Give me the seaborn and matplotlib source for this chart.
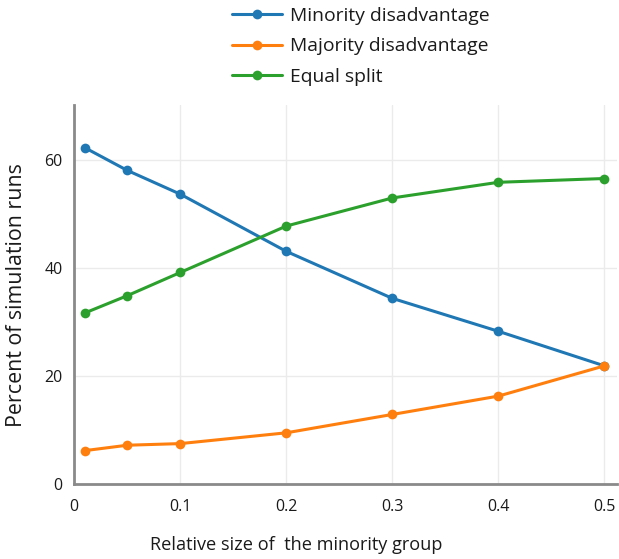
import matplotlib
matplotlib.use("Agg")
import matplotlib.pyplot as plt
import seaborn as sns
import pandas as pd

minority_size = [0.01, 0.05, 0.1, 0.2, 0.3, 0.4, 0.5]
minority_disadvantage = [62.3, 58.1, 53.7, 43.1, 34.4, 28.3, 21.9]
majority_disadvantage = [6.2, 7.2, 7.5, 9.5, 12.9, 16.3, 21.9]
equal_split = [31.7, 34.9, 39.2, 47.8, 53.0, 55.9, 56.6]
series_names = ["Minority disadvantage", "Majority disadvantage", "Equal split"]
x_ticks = [0, 0.1, 0.2, 0.3, 0.4, 0.5]
x_tick_labels = ["0", "0.1", "0.2", "0.3", "0.4", "0.5"]
y_ticks = [0, 20, 40, 60]

rows = []
for name, vals in zip(series_names, [minority_disadvantage, majority_disadvantage, equal_split]):
    for x, v in zip(minority_size, vals):
        rows.append({"x": x, "y": v, "series": name})
df = pd.DataFrame(rows)

sns.set_style("white")
plt.rcParams["font.family"] = ["Open Sans", "DejaVu Sans"]

fig = plt.figure(figsize=(6.19, 5.59), dpi=100)
ax = fig.add_axes([0.12, 0.134, 0.877, 0.678])

palette = ["#1f77b4", "#ff7f0e", "#2ca02c"]
sns.lineplot(data=df, x="x", y="y", hue="series", hue_order=series_names,
             palette=palette, marker="o", markersize=7, markeredgewidth=0,
             linewidth=2.2, ax=ax)

ax.set_xlim(0, 0.512)
ax.set_ylim(0, 70.2)
ax.set_xticks(x_ticks)
ax.set_xticklabels(x_tick_labels)
ax.set_yticks(y_ticks)
ax.grid(True, color="#ebebeb", linewidth=1.0)
ax.set_axisbelow(True)
for s in ["top", "right"]:
    ax.spines[s].set_visible(False)
for s in ["left", "bottom"]:
    ax.spines[s].set_color("#8a8a8a")
    ax.spines[s].set_linewidth(2)
ax.tick_params(axis="both", length=0, labelsize=11.5, colors="#1a1a1a")
ax.tick_params(axis="x", pad=11)
ax.tick_params(axis="y", pad=8.5)
ax.set_xlabel("Relative size of  the minority group", fontsize=13.1, color="#1a1a1a")
ax.set_ylabel("Percent of simulation runs", fontsize=15.4, color="#1a1a1a")
ax.xaxis.set_label_coords(0.409, -0.161)
ax.xaxis.label.set_va("center")
ax.yaxis.set_label_coords(-0.107, 0.5)
ax.yaxis.label.set_va("center")

leg = ax.legend(loc="upper left", bbox_to_anchor=(232 / 619, 1 - 7 / 559),
                bbox_transform=fig.transFigure, frameon=False, borderpad=0,
                borderaxespad=0, fontsize=13.9, handlelength=2.6,
                labelspacing=0.64, handletextpad=0.4)
for t in leg.get_texts():
    t.set_color("#1a1a1a")

fig.savefig("out.png", dpi=100)
